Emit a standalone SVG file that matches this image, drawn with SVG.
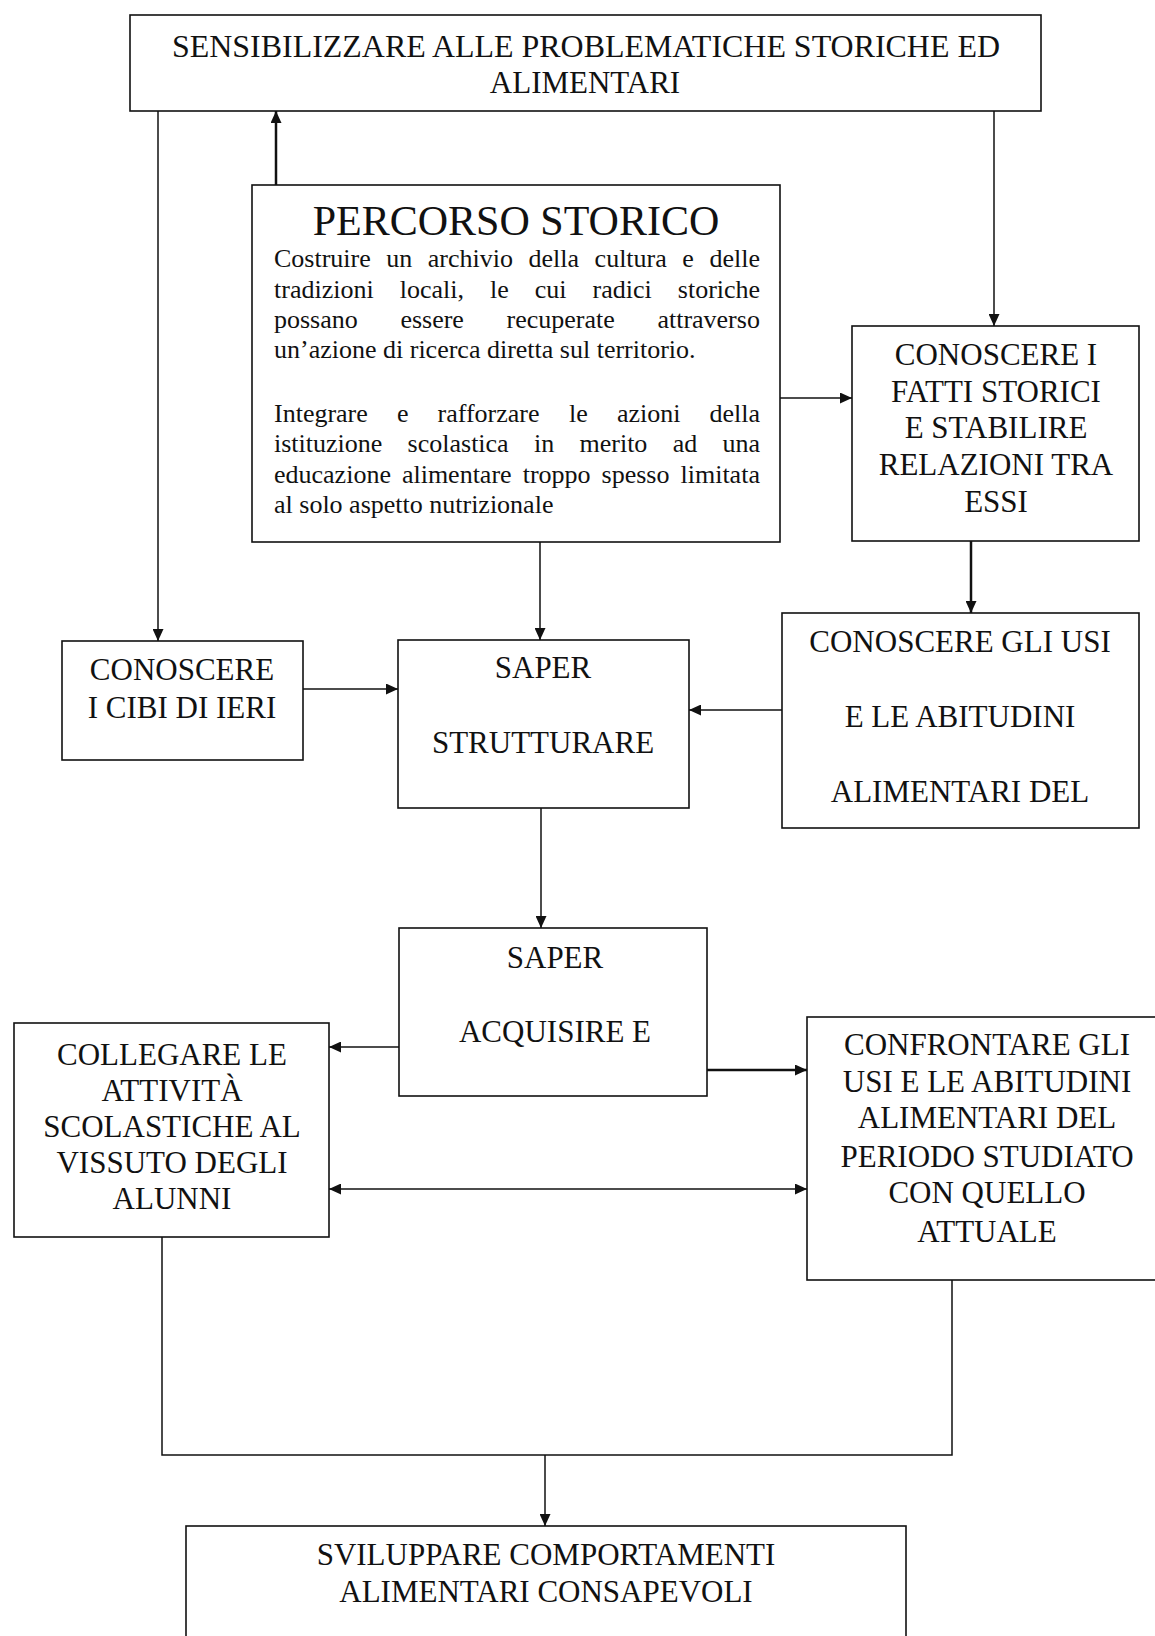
<svg xmlns="http://www.w3.org/2000/svg" width="1155" height="1636" viewBox="0 0 1155 1636">
<defs>
<style>
.box{fill:#fff;stroke:#111;stroke-width:1.6}
.t{font-family:"Liberation Serif","Times New Roman",serif;font-size:31px;fill:#111;text-anchor:middle}
.p{font-family:"Liberation Serif","Times New Roman",serif;font-size:26px;fill:#111}
.ttl{font-family:"Liberation Serif","Times New Roman",serif;font-size:42px;fill:#111;text-anchor:middle}
.c{fill:none;stroke:#111;stroke-width:1.5}
.ck{stroke-width:2.5}
</style>
<marker id="ah" markerUnits="userSpaceOnUse" markerWidth="13" markerHeight="11" refX="12" refY="5.5" orient="auto-start-reverse" viewBox="0 0 13 11"><path d="M0,0 L12,5.5 L0,11 z" fill="#111"/></marker>
</defs>
<rect x="0" y="0" width="1155" height="1636" fill="#fff"/>

<g id="n-sensibilizzare">
<rect class="box" x="130" y="15" width="911" height="96"/>
<text class="t" x="586" y="57" textLength="828" lengthAdjust="spacingAndGlyphs">SENSIBILIZZARE ALLE PROBLEMATICHE STORICHE ED</text>
<text class="t" x="585" y="93">ALIMENTARI</text>
</g>

<g id="n-percorso">
<rect class="box" x="252" y="185" width="528" height="357"/>
<text class="ttl" x="516" y="235">PERCORSO STORICO</text>
<text class="p" y="267"><tspan x="274">Costruire</tspan> <tspan x="386.3">un</tspan> <tspan x="427.8">archivio</tspan> <tspan x="528.5">della</tspan> <tspan x="594.6">cultura</tspan> <tspan x="682.3">e</tspan> <tspan x="709.4">delle</tspan></text>
<text class="p" y="298"><tspan x="274">tradizioni</tspan> <tspan x="399.7">locali,</tspan> <tspan x="490">le</tspan> <tspan x="534.8">cui</tspan> <tspan x="592.6">radici</tspan> <tspan x="677.8">storiche</tspan></text>
<text class="p" y="328"><tspan x="274">possano</tspan> <tspan x="400.4">essere</tspan> <tspan x="506.5">recuperate</tspan> <tspan x="657.4">attraverso</tspan></text>
<text class="p" x="274" y="358">un’azione di ricerca diretta sul territorio.</text>
<text class="p" y="422"><tspan x="274">Integrare</tspan> <tspan x="396.9">e</tspan> <tspan x="437.5">rafforzare</tspan> <tspan x="569.1">le</tspan> <tspan x="616.9">azioni</tspan> <tspan x="709.5">della</tspan></text>
<text class="p" y="452"><tspan x="274">istituzione</tspan> <tspan x="407.6">scolastica</tspan> <tspan x="534">in</tspan> <tspan x="579.5">merito</tspan> <tspan x="672.7">ad</tspan> <tspan x="722.5">una</tspan></text>
<text class="p" y="483"><tspan x="274">educazione</tspan> <tspan x="401.9">alimentare</tspan> <tspan x="522.7">troppo</tspan> <tspan x="601.6">spesso</tspan> <tspan x="680.5">limitata</tspan></text>
<text class="p" x="274" y="513">al solo aspetto nutrizionale</text>
</g>

<g id="n-fatti">
<rect class="box" x="852" y="326" width="287" height="215"/>
<text class="t" x="996" y="365">CONOSCERE I</text>
<text class="t" x="996" y="402">FATTI STORICI</text>
<text class="t" x="996" y="438">E STABILIRE</text>
<text class="t" x="996" y="475">RELAZIONI TRA</text>
<text class="t" x="996" y="512">ESSI</text>
</g>

<g id="n-cibi">
<rect class="box" x="62" y="641" width="241" height="119"/>
<text class="t" x="182" y="680">CONOSCERE</text>
<text class="t" x="182" y="718">I CIBI DI IERI</text>
</g>

<g id="n-strutturare">
<rect class="box" x="398" y="640" width="291" height="168"/>
<text class="t" x="543" y="678">SAPER</text>
<text class="t" x="543" y="753">STRUTTURARE</text>
</g>

<g id="n-usi">
<rect class="box" x="782" y="613" width="357" height="215"/>
<text class="t" x="960" y="652">CONOSCERE GLI USI</text>
<text class="t" x="960" y="727">E LE ABITUDINI</text>
<text class="t" x="960" y="802">ALIMENTARI DEL</text>
</g>

<g id="n-acquisire">
<rect class="box" x="399" y="928" width="308" height="168"/>
<text class="t" x="555" y="968">SAPER</text>
<text class="t" x="555" y="1042">ACQUISIRE E</text>
</g>

<g id="n-collegare">
<rect class="box" x="14" y="1023" width="315" height="214"/>
<text class="t" x="172" y="1065">COLLEGARE LE</text>
<text class="t" x="172" y="1101">ATTIVITÀ</text>
<text class="t" x="172" y="1137">SCOLASTICHE AL</text>
<text class="t" x="172" y="1173">VISSUTO DEGLI</text>
<text class="t" x="172" y="1209">ALUNNI</text>
</g>

<g id="n-confrontare">
<rect class="box" x="807" y="1017" width="360" height="263"/>
<text class="t" x="987" y="1055">CONFRONTARE GLI</text>
<text class="t" x="987" y="1092">USI E LE ABITUDINI</text>
<text class="t" x="987" y="1128">ALIMENTARI DEL</text>
<text class="t" x="987" y="1167">PERIODO STUDIATO</text>
<text class="t" x="987" y="1203">CON QUELLO</text>
<text class="t" x="987" y="1242">ATTUALE</text>
</g>

<g id="n-sviluppare">
<rect class="box" x="186" y="1526" width="720" height="130"/>
<text class="t" x="546" y="1565">SVILUPPARE COMPORTAMENTI</text>
<text class="t" x="546" y="1602">ALIMENTARI CONSAPEVOLI</text>
</g>

<g id="connectors">
<path class="c" d="M158,111 V641" marker-end="url(#ah)"/>
<path class="c ck" d="M276,185 V111" marker-end="url(#ah)"/>
<path class="c" d="M994,111 V326" marker-end="url(#ah)"/>
<path class="c" d="M780,398 H852" marker-end="url(#ah)"/>
<path class="c ck" d="M971,541 V613" marker-end="url(#ah)"/>
<path class="c" d="M540,542 V640" marker-end="url(#ah)"/>
<path class="c" d="M303,689 H398" marker-end="url(#ah)"/>
<path class="c" d="M782,710 H689" marker-end="url(#ah)"/>
<path class="c" d="M541,808 V928" marker-end="url(#ah)"/>
<path class="c" d="M399,1047 H329" marker-end="url(#ah)"/>
<path class="c ck" d="M707,1070 H807" marker-end="url(#ah)"/>
<path class="c" d="M329,1189 H807" marker-start="url(#ah)" marker-end="url(#ah)"/>
<path class="c" d="M162,1237 V1455 H952 V1280"/>
<path class="c" d="M545,1455 V1526" marker-end="url(#ah)"/>
</g>
</svg>
